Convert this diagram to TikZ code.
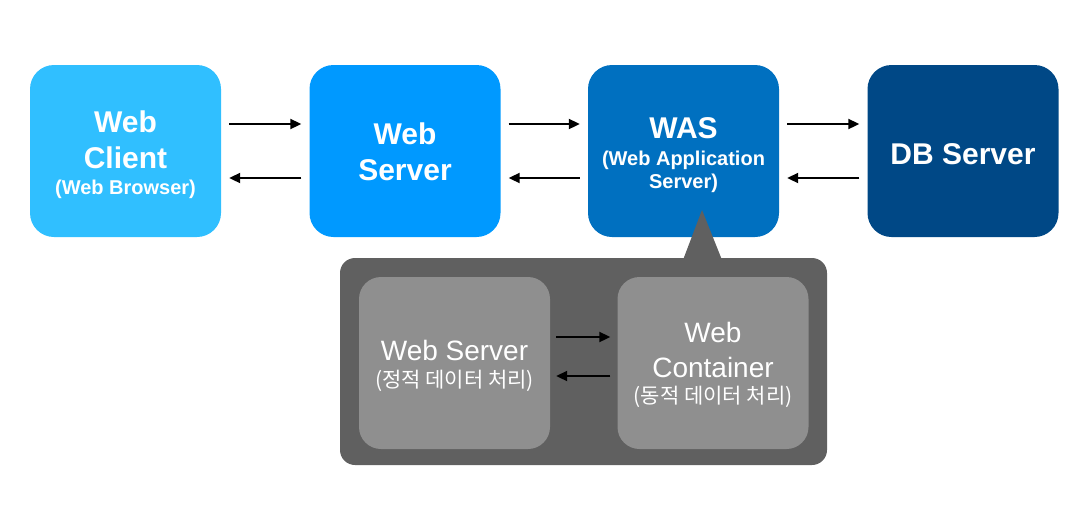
\documentclass[tikz,border=0pt]{standalone}
\usepackage{fontspec}
\setmainfont{Liberation Sans}
\newfontfamily\kr{Noto Sans CJK KR}
\usetikzlibrary{arrows.meta}
\definecolor{cClient}{RGB}{48,191,255}
\definecolor{cWeb}{RGB}{0,153,255}
\definecolor{cWAS}{RGB}{0,112,192}
\definecolor{cDB}{RGB}{0,72,134}
\definecolor{cCont}{RGB}{96,96,96}
\definecolor{cInner}{RGB}{143,143,143}
\tikzset{
  topbox/.style={rounded corners=24pt, minimum width=191pt, minimum height=172pt, inner sep=0pt},
  toptxt/.style={text=white, align=center, inner sep=0pt,
    font=\bfseries\fontsize{30}{36}\selectfont},
  innerbox/.style={rounded corners=22pt, fill=cInner, minimum width=191pt, minimum height=172pt, inner sep=0pt},
  innertxt/.style={text=white, align=center, inner sep=0pt,
    font=\fontsize{28}{35}\selectfont},
  conn/.style={line width=2pt, -{Triangle[length=11pt,width=10pt]}},
}
\begin{document}
\begin{tikzpicture}[x=1pt,y=-1pt]
\useasboundingbox (0,0) rectangle (1089,520);
% top row
\node[topbox, fill=cClient, label={[toptxt, yshift=-4pt]center:{Web\\Client\\[-10pt]{\fontsize{20}{24}\selectfont (Web Browser)}}}] (wc) at (125.5,151) {};
\node[topbox, fill=cWeb, label={[toptxt, yshift=-1pt]center:{Web\\Server}}] (ws) at (405,151) {};
\node[topbox, fill=cWAS, label={[toptxt, yshift=-4pt]center:{WAS\\[-9pt]{\fontsize{20}{24}\selectfont (Web Application}\\[-13pt]{\fontsize{20}{24}\selectfont Server)}}}] (was) at (683.5,151) {};
\node[topbox, fill=cDB, label={[toptxt, yshift=-3pt]center:{DB Server}}] (db) at (963,151) {};
% arrows top
\foreach \a/\b in {wc/ws, ws/was, was/db}{
  \draw[conn] ([xshift=8pt,yshift=27pt]\a.east) -- ([xshift=-8pt,yshift=27pt]\b.west);
  \draw[conn] ([xshift=-8pt,yshift=-27pt]\b.west) -- ([xshift=8pt,yshift=-27pt]\a.east);
}
% container with pointer
\fill[cCont] (683,260) -- (702,210) -- (722,260) -- cycle;
\node[rounded corners=15pt, fill=cCont, minimum width=487pt, minimum height=207pt, inner sep=0pt] (cont) at (583.5,361.5) {};
\node[innerbox, label={[innertxt, yshift=-3pt]center:{Web Server\\[-8pt]{\kr\fontsize{21}{25}\selectfont (정적 데이터 처리)}}}] (iws) at (454.5,363) {};
\node[innerbox, label={[innertxt, yshift=-2pt]center:{Web\\Container\\[-9pt]{\kr\fontsize{21}{25}\selectfont (동적 데이터 처리)}}}] (iwc) at (713,363) {};
\draw[conn] ([xshift=6pt,yshift=26pt]iws.east) -- ([xshift=-7pt,yshift=26pt]iwc.west);
\draw[conn] ([xshift=-7pt,yshift=-13pt]iwc.west) -- ([xshift=6pt,yshift=-13pt]iws.east);
\end{tikzpicture}
\end{document}
